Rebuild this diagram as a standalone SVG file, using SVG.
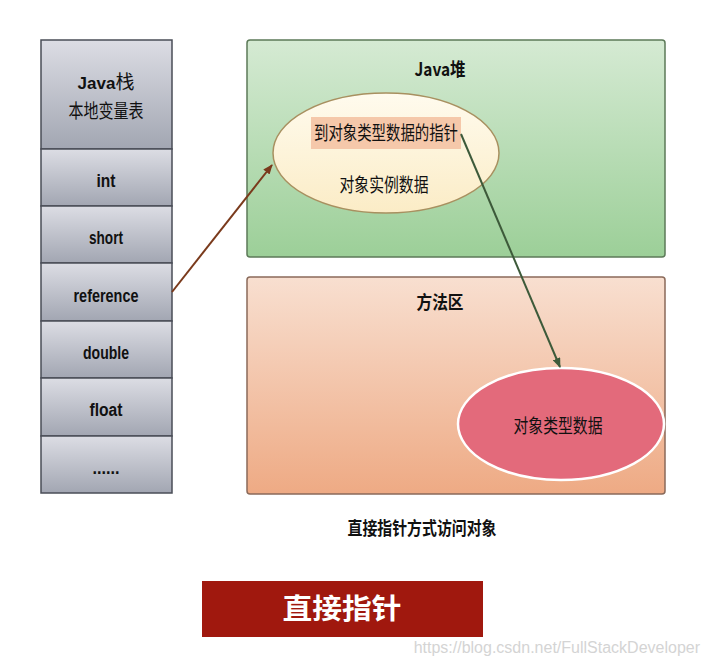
<svg xmlns="http://www.w3.org/2000/svg" width="709" height="665" viewBox="0 0 709 665">
<defs>
<linearGradient id="cell" x1="0" y1="0" x2="0" y2="1">
<stop offset="0" stop-color="#dcdde4"/><stop offset="1" stop-color="#a2a6b2"/>
</linearGradient>
<linearGradient id="heap" x1="0" y1="0" x2="0" y2="1">
<stop offset="0" stop-color="#d5ead3"/><stop offset="1" stop-color="#9ccf98"/>
</linearGradient>
<linearGradient id="method" x1="0" y1="0" x2="0" y2="1">
<stop offset="0" stop-color="#f8dfd0"/><stop offset="1" stop-color="#eeaa84"/>
</linearGradient>
<linearGradient id="obj" x1="0" y1="0" x2="0" y2="1">
<stop offset="0" stop-color="#fffbee"/><stop offset="1" stop-color="#fbecc6"/>
</linearGradient>
<marker id="ahB" markerWidth="10" markerHeight="8" refX="9" refY="4" orient="auto" markerUnits="userSpaceOnUse">
<path d="M0,0 L10,4 L0,8 z" fill="#7a3a1c"/>
</marker>
<marker id="ahG" markerWidth="10" markerHeight="8" refX="9" refY="4" orient="auto" markerUnits="userSpaceOnUse">
<path d="M0,0 L10,4 L0,8 z" fill="#3d5a3a"/>
</marker>
</defs>
<style>
.cell{fill:url(#cell);stroke:#4a4d57;stroke-width:1.5}
.lbl{font-family:"Liberation Sans","Noto Sans CJK SC",sans-serif;font-weight:bold;font-size:18px;fill:#111;text-anchor:middle}
.cjk{font-family:"Noto Sans CJK SC",sans-serif;font-size:19px;fill:#111;text-anchor:middle}
.cjkb{font-family:"Noto Sans CJK SC",sans-serif;font-weight:bold;font-size:18px;fill:#111;text-anchor:middle}
</style>
<rect width="709" height="665" fill="#fff"/>
<g id="stack">
<rect class="cell" x="41" y="40" width="131" height="109"/>
<text class="cjk" x="106" y="89" font-size="18"><tspan font-family="'Liberation Sans',sans-serif" font-weight="bold" font-size="17">Java</tspan>栈</text>
<text class="cjk" x="106" y="118" textLength="75" lengthAdjust="spacingAndGlyphs">本地变量表</text>
<rect class="cell" x="41" y="149" width="131" height="57"/>
<text class="lbl" x="106" y="187" textLength="19" lengthAdjust="spacingAndGlyphs">int</text>
<rect class="cell" x="41" y="206" width="131" height="57"/>
<text class="lbl" x="106" y="244" textLength="34" lengthAdjust="spacingAndGlyphs">short</text>
<rect class="cell" x="41" y="263" width="131" height="58"/>
<text class="lbl" x="106" y="302" textLength="65" lengthAdjust="spacingAndGlyphs">reference</text>
<rect class="cell" x="41" y="321" width="131" height="57"/>
<text class="lbl" x="106" y="359" textLength="46" lengthAdjust="spacingAndGlyphs">double</text>
<rect class="cell" x="41" y="378" width="131" height="58"/>
<text class="lbl" x="106" y="416" textLength="33" lengthAdjust="spacingAndGlyphs">float</text>
<rect class="cell" x="41" y="436" width="131" height="57"/>
<text class="lbl" x="106" y="474" textLength="27" lengthAdjust="spacingAndGlyphs">......</text>
</g>
<g id="heap-area">
<rect x="247" y="40" width="418" height="217" rx="3" fill="url(#heap)" stroke="#5c7a58" stroke-width="1.5"/>
<text class="cjkb" x="440" y="76" textLength="51" lengthAdjust="spacingAndGlyphs">Java堆</text>
</g>
<g id="method-area">
<rect x="247" y="277" width="418" height="217" rx="3" fill="url(#method)" stroke="#8a6a5a" stroke-width="1.5"/>
<text class="cjkb" x="440" y="309" textLength="47" lengthAdjust="spacingAndGlyphs">方法区</text>
</g>
<g id="instance">
<ellipse cx="386" cy="153" rx="113" ry="60" fill="url(#obj)" stroke="#a89060" stroke-width="1.5"/>
<rect x="311" y="117" width="150" height="32" fill="#f5c8aa"/>
<text class="cjk" x="386" y="140" font-size="18" textLength="144" lengthAdjust="spacingAndGlyphs">到对象类型数据的指针</text>
<text class="cjk" x="384" y="192" font-size="18" textLength="89" lengthAdjust="spacingAndGlyphs">对象实例数据</text>
</g>
<g id="type-data">
<ellipse cx="561" cy="424" rx="103" ry="56" fill="#e36a7b" stroke="#ffffff" stroke-width="2.5"/>
<text class="cjk" x="558" y="433" font-size="18" textLength="89" lengthAdjust="spacingAndGlyphs">对象类型数据</text>
</g>
<g id="connectors">
<line x1="172" y1="292" x2="272" y2="165" stroke="#7a3a1c" stroke-width="2" marker-end="url(#ahB)"/>
<line x1="461" y1="134" x2="560" y2="367" stroke="#3d5a3a" stroke-width="2" marker-end="url(#ahG)"/>
</g>
<g id="caption">
<text class="cjkb" x="422" y="535" font-size="18" textLength="149" lengthAdjust="spacingAndGlyphs">直接指针方式访问对象</text>
</g>
<g id="banner">
<rect x="202" y="581" width="281" height="56" fill="#a0180e"/>
<text x="342" y="619" font-family="'Noto Sans CJK SC',sans-serif" font-weight="bold" font-size="28" fill="#fff" text-anchor="middle" textLength="119" lengthAdjust="spacingAndGlyphs">直接指针</text>
</g>
<text x="700" y="653" font-family="'Liberation Sans',sans-serif" font-size="16" fill="#d4d4d4" text-anchor="end">https://blog.csdn.net/FullStackDeveloper</text>
</svg>
